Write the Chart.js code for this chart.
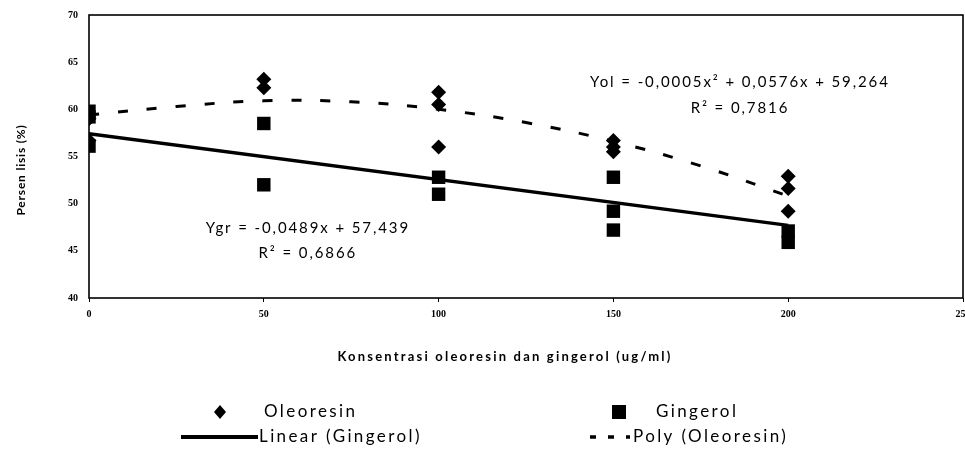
<!DOCTYPE html>
<html>
<head>
<meta charset="utf-8">
<script src="https://cdn.jsdelivr.net/npm/chart.js@4.4.1/dist/chart.umd.min.js"></script>
<style>
  html, body { margin: 0; padding: 0; background: #fff; }
  #wrap { width: 965px; height: 455px; }
</style>
</head>
<body>
<div id="wrap"><canvas id="chartLisis" width="965" height="455"></canvas></div>
<script>
// values (x = concentration ug/ml, y = % lysis)
const oleoresinX = [0, 0, 0, 50, 50, 100, 100, 100, 150, 150, 150, 200, 200, 200];
const oleoresinY = [59.5, 59.0, 56.7, 63.2, 62.3, 61.8, 60.5, 56.0, 56.7, 56.0, 55.5, 52.9, 51.6, 49.2];

const gingerolX = [0, 0, 0, 50, 50, 100, 100, 150, 150, 150, 200, 200];
const gingerolY = [59.8, 59.2, 56.1, 58.5, 52.0, 52.8, 51.0, 52.8, 49.2, 47.2, 47.1, 45.9];

// trend lines as drawn in the figure
const linearX = [0, 200];
const linearY = [57.4, 47.7];
const polyX = [0, 25, 50, 75, 100, 125, 150, 175, 200];
const polyY = [59.4, 60.3, 60.9, 60.8, 60.0, 58.6, 56.6, 54.0, 50.8];

const xTicks = [0, 50, 100, 150, 200, 250];
const yTicks = [40, 45, 50, 55, 60, 65, 70];

const toPoints = (xs, ys) => xs.map((v, i) => ({x: v, y: ys[i]}));

const FONT = 'Lato, "DejaVu Sans", sans-serif';

// frame, equations, axis titles and legend
const decorPlugin = {
  id: 'decor',
  beforeDatasetsDraw(chart) {
    const {ctx, chartArea: a} = chart;
    ctx.save();
    ctx.strokeStyle = '#000';
    ctx.lineWidth = 1.6;
    ctx.strokeRect(a.left, a.top, a.right - a.left, a.bottom - a.top);
    ctx.restore();
  },
  afterDraw(chart) {
    const {ctx, scales: {x, y}} = chart;
    ctx.save();
    ctx.fillStyle = '#000';
    ctx.strokeStyle = '#000';
    ctx.textBaseline = 'middle';

    // equations
    ctx.font = '15px ' + FONT;
    ctx.letterSpacing = '1.9px';
    ctx.textAlign = 'center';
    ctx.fillText('Ygr = -0,0489x + 57,439', x.getPixelForValue(62.6), y.getPixelForValue(47.4));
    ctx.fillText('R\u00B2 = 0,6866', x.getPixelForValue(62.6), y.getPixelForValue(44.75));
    ctx.fillText('Yol = -0,0005x\u00B2 + 0,0576x + 59,264', x.getPixelForValue(186.2), y.getPixelForValue(62.9));
    ctx.fillText('R\u00B2 = 0,7816', x.getPixelForValue(186.2), y.getPixelForValue(60.1));

    // axis titles
    ctx.font = 'bold 13px ' + FONT;
    ctx.letterSpacing = '2.2px';
    ctx.fillText('Konsentrasi oleoresin dan gingerol (ug/ml)', 505, 357);
    ctx.save();
    ctx.translate(21, 170);
    ctx.rotate(-Math.PI / 2);
    ctx.font = 'bold 12px ' + FONT;
    ctx.letterSpacing = '0.8px';
    ctx.fillText('Persen lisis (%)', 0, 0);
    ctx.restore();

    // legend
    ctx.font = '17px ' + FONT;
    ctx.letterSpacing = '2.4px';
    ctx.textAlign = 'left';
    const r1 = 412, r2 = 437;
    ctx.beginPath();
    ctx.moveTo(220, r1 - 7); ctx.lineTo(226, r1); ctx.lineTo(220, r1 + 7); ctx.lineTo(214, r1);
    ctx.closePath(); ctx.fill();
    ctx.fillText('Oleoresin', 264, r1);
    ctx.fillRect(612, r1 - 7, 14, 14);
    ctx.fillText('Gingerol', 656, r1);
    ctx.lineWidth = 4;
    ctx.beginPath(); ctx.moveTo(181, r2); ctx.lineTo(258, r2); ctx.stroke();
    ctx.fillText('Linear (Gingerol)', 259, r2);
    ctx.lineWidth = 3.5;
    ctx.setLineDash([6, 12]);
    ctx.beginPath(); ctx.moveTo(590, r2); ctx.lineTo(630, r2); ctx.stroke();
    ctx.setLineDash([]);
    ctx.fillText('Poly (Oleoresin)', 633, r2);
    ctx.restore();
  }
};

const ctx = document.getElementById('chartLisis');

const chartLisis = new Chart(ctx, {
  type: 'scatter',
  data: {
    datasets: [
      {
        label: 'Gingerol',
        data: toPoints(gingerolX, gingerolY),
        pointStyle: 'rect',
        pointRadius: 9.5,
        pointHoverRadius: 9.5,
        backgroundColor: '#000',
        borderColor: '#000',
        borderWidth: 0,
        order: 1
      },
      {
        label: 'Oleoresin',
        data: toPoints(oleoresinX, oleoresinY),
        pointStyle: 'rectRot',
        pointRadius: 7.5,
        pointHoverRadius: 7.5,
        backgroundColor: '#000',
        borderColor: '#000',
        borderWidth: 0,
        order: 2
      },
      {
        label: 'Linear (Gingerol)',
        data: toPoints(linearX, linearY),
        showLine: true,
        pointRadius: 0,
        borderColor: '#000',
        borderWidth: 3.5,
        order: 3
      },
      {
        label: 'Poly (Oleoresin)',
        data: toPoints(polyX, polyY),
        showLine: true,
        tension: 0.4,
        pointRadius: 0,
        borderColor: '#000',
        borderWidth: 3,
        borderDash: [10, 19],
        order: 3
      }
    ]
  },
  options: {
    responsive: false,
    animation: false,
    layout: { autoPadding: false, padding: { top: 15, right: 2, left: 0, bottom: 0 } },
    plugins: {
      legend: { display: false },
      tooltip: { enabled: false }
    },
    scales: {
      x: {
        type: 'linear',
        min: 0,
        max: 250,
        afterBuildTicks: (s) => { s.ticks = xTicks.map(v => ({value: v})); },
        afterFit: (s) => { s.height = 157; s.paddingRight = 0; s.paddingLeft = 0; },
        border: { display: false },
        grid: { display: true, drawOnChartArea: false, drawTicks: true, tickLength: 4, color: '#000', lineWidth: 1 },
        ticks: { color: '#000', padding: 6, maxRotation: 0, font: { family: '"Liberation Serif", serif', size: 10, weight: 'bold' } }
      },
      y: {
        min: 40,
        max: 70,
        afterBuildTicks: (s) => { s.ticks = yTicks.map(v => ({value: v})); },
        afterFit: (s) => { s.width = 89; s.paddingTop = 0; s.paddingBottom = 0; },
        border: { display: false },
        grid: { display: false, drawTicks: false },
        ticks: { color: '#000', padding: 11, font: { family: '"Liberation Serif", serif', size: 10, weight: 'bold' } }
      }
    }
  },
  plugins: [decorPlugin]
});
</script>
</body>
</html>
